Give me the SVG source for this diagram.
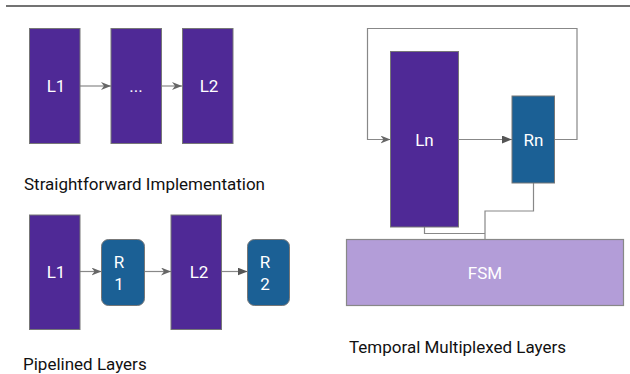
<svg xmlns="http://www.w3.org/2000/svg" width="630" height="374" viewBox="0 0 630 374">
<style>
.L{fill:#4f2996;stroke:#777;stroke-width:1}
.R{fill:#1b6095;stroke:#777;stroke-width:1}
.F{fill:#b39dd8;stroke:#888;stroke-width:1.2}
.t{font-family:Roboto,"Liberation Sans",sans-serif;font-size:17px;fill:#fff;text-anchor:middle;dominant-baseline:central}
.cap{font-family:Roboto,"Liberation Sans",sans-serif;font-size:17px;fill:#111}
.c{fill:none;stroke:#888;stroke-width:1.2}
</style>
<defs>
<marker id="ao" viewBox="0 0 10 8" refX="10" refY="4" markerWidth="10" markerHeight="8" markerUnits="userSpaceOnUse" orient="auto">
<path d="M0,0 L10,4 L0,8 L3,4 Z" fill="#666"/>
</marker>
<marker id="af" viewBox="0 0 10 8" refX="10" refY="4" markerWidth="10" markerHeight="8" markerUnits="userSpaceOnUse" orient="auto">
<path d="M0,0 L10,4 L0,8 Z" fill="#555"/>
</marker>
</defs>
<line x1="6" y1="6" x2="630" y2="6" stroke="#444" stroke-width="1.5"/>
<g id="connectors">
<line class="c" x1="80" y1="86" x2="111" y2="86" marker-end="url(#ao)"/>
<line class="c" x1="161" y1="86" x2="182" y2="86" marker-end="url(#ao)"/>
<line class="c" x1="80" y1="271.5" x2="101.5" y2="271.5" marker-end="url(#ao)"/>
<line class="c" x1="144.5" y1="271.5" x2="171" y2="271.5" marker-end="url(#ao)"/>
<line class="c" x1="221.5" y1="271.5" x2="247.5" y2="271.5" marker-end="url(#af)"/>
<line class="c" x1="458.5" y1="139.5" x2="512" y2="139.5" marker-end="url(#af)"/>
<polyline class="c" points="554.5,139.5 577,139.5 577,28.5 367.5,28.5 367.5,139.5 390.5,139.5" marker-end="url(#ao)"/>
<polyline class="c" points="533.5,183 533.5,211 485,211 485,239"/>
<polyline class="c" points="424.5,227 424.5,233.5 485,233.5"/>
</g>
<g id="sf-L1"><rect class="L" x="29.5" y="28.5" width="50.5" height="115"/><text class="t" x="56" y="86">L1</text></g>
<g id="sf-dots"><rect class="L" x="111" y="28.5" width="50.5" height="115"/><text class="t" x="136" y="86">...</text></g>
<g id="sf-L2"><rect class="L" x="182.5" y="28.5" width="50.5" height="115"/><text class="t" x="209" y="86">L2</text></g>
<text class="cap" x="24" y="190">Straightforward Implementation</text>
<g id="pl-L1"><rect class="L" x="29.5" y="215" width="50.5" height="114.5"/><text class="t" x="56" y="272">L1</text></g>
<g id="pl-R1"><rect class="R" x="101.5" y="239.5" width="43" height="66" rx="7"/><text class="t" x="119" y="262">R</text><text class="t" x="119" y="284">1</text></g>
<g id="pl-L2"><rect class="L" x="171" y="215" width="50.5" height="114.5"/><text class="t" x="199" y="272">L2</text></g>
<g id="pl-R2"><rect class="R" x="247.5" y="239.5" width="42" height="66" rx="7"/><text class="t" x="265" y="262">R</text><text class="t" x="265" y="284">2</text></g>
<text class="cap" x="23" y="370">Pipelined Layers</text>
<g id="tm-Ln"><rect class="L" x="390.5" y="51.5" width="68" height="175.5"/><text class="t" x="424.5" y="139.5">Ln</text></g>
<g id="tm-Rn"><rect class="R" x="512" y="96" width="42.5" height="87"/><text class="t" x="533.5" y="139.5">Rn</text></g>
<g id="tm-FSM"><rect class="F" x="346.5" y="239.5" width="277" height="66"/><text class="t" x="485" y="272.5">FSM</text></g>
<text class="cap" x="349" y="352.5">Temporal Multiplexed Layers</text>
</svg>
